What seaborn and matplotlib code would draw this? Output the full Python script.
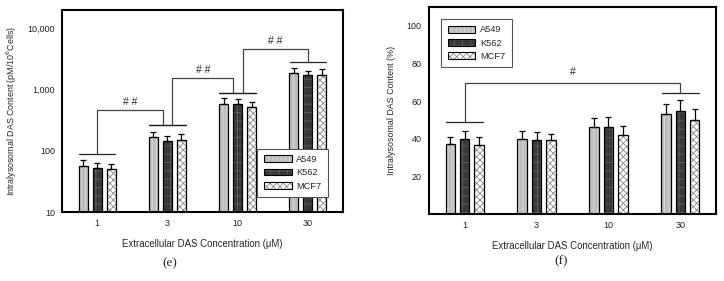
import numpy as np
import pandas as pd
import seaborn as sns
from matplotlib import pyplot as plt
from matplotlib.patches import Patch, Rectangle
from matplotlib.legend_handler import HandlerTuple
from matplotlib.ticker import FixedLocator, NullLocator

# categories
concentrations = ['1', '3', '10', '30']
cell_lines = ['A549', 'K562', 'MCF7']

# panel (e): intralysosomal DAS content, pM/10^6 cells (log axis)
e_a549 = [57, 170, 570, 1830]
e_k562 = [53, 144, 578, 1700]
e_mcf7 = [49.5, 152, 510, 1740]
e_a549_err = [13, 34, 140, 380]
e_k562_err = [10.5, 32, 112, 320]
e_mcf7_err = [11.5, 34, 118, 390]

# panel (f): intralysosomal DAS content, %
f_a549 = [37.3, 39.8, 46.0, 53.3]
f_k562 = [40.0, 39.3, 46.2, 54.7]
f_mcf7 = [36.6, 39.3, 42.1, 50.1]
f_a549_err = [3.9, 4.2, 4.8, 5.1]
f_k562_err = [3.9, 4.1, 5.1, 6.0]
f_mcf7_err = [4.1, 3.5, 4.8, 5.7]

# significance brackets: (from group, to group, base of left, top, base of right, label)
e_brackets = [(0, 1, 89, 460, 260, '# #'),
              (1, 2, 260, 1510, 882, '# #'),
              (2, 3, 882, 4530, 2740, '# #')]
f_brackets = [(0, 3, 49.0, 69.8, 64.2, '#')]

# bar styles: face, hatch, hatch colour
styles = {'A549': ('#bdbdbd', '||||', '#dcdcdc'),
          'K562': ('#383838', '++', '#606060'),
          'MCF7': ('white', 'xxxxx', '#8a8a8a')}


def make_df(vals, errs):
    rows = []
    for line, v, e in zip(cell_lines, vals, errs):
        for c, vv, ee in zip(concentrations, v, e):
            rows.append({'conc': c, 'line': line, 'value': vv, 'err': ee})
    return pd.DataFrame(rows)


def draw_panel(ax, df):
    sns.barplot(data=df, x='conc', y='value', hue='line', order=concentrations,
                hue_order=cell_lines, width=0.6, gap=0.35, legend=False, ax=ax,
                errorbar=None)
    for cont, line in zip(ax.containers, cell_lines):
        face, hatch, hcol = styles[line]
        sub = df[df.line == line].set_index('conc').loc[concentrations]
        xs = []
        for p in cont.patches:
            p.set_facecolor(face)
            p.set_hatch(hatch)
            p.set_edgecolor(hcol)
            p.set_linewidth(0)
            ax.add_patch(Rectangle(p.get_xy(), p.get_width(), p.get_height(),
                                   fill=False, ec='black', lw=0.9, zorder=3))
            xs.append(p.get_x() + p.get_width() / 2)
        ax.errorbar(xs, sub['value'], yerr=[np.zeros(len(xs)), sub['err']],
                    fmt='none', ecolor='black', elinewidth=0.9, capsize=2.2,
                    capthick=0.9, zorder=2)


def draw_brackets(ax, brackets, ytext_factor, log=False):
    for g0, g1, b0, top, b1, label in brackets:
        # horizontal lines over the groups
        for g, b in ((g0, b0), (g1, b1)):
            ax.plot([g - 0.26, g + 0.26], [b, b], color='#222222', lw=0.9)
        x0 = g0 + (0.0 if g0 == 0 else 0.07)
        x1 = g1 - (0.0 if g1 == 3 else 0.06)
        ax.plot([x0, x0, x1, x1], [b0, top, top, b1], color='#444444', lw=0.9)
        yt = top * ytext_factor if log else top + ytext_factor
        ax.text((x0 + x1) / 2, yt, label, ha='center', va='bottom',
                fontsize=7.5, family='Liberation Sans')


def legend_handles():
    hs = []
    for line in cell_lines:
        face, hatch, hcol = styles[line]
        hs.append((Patch(facecolor=face, hatch=hatch, edgecolor=hcol, lw=0),
                   Patch(fill=False, edgecolor='black', lw=0.8)))
    return hs


def style_axes(ax):
    for s in ax.spines.values():
        s.set_linewidth(1.5)
        s.set_color('black')
    ax.tick_params(axis='both', direction='out', length=3, width=0.8,
                   labelsize=6.5, pad=2, labelcolor='#222222')
    ax.set_xlim(-0.5, 3.5)


def add_legend(ax, loc, anchor):
    leg = ax.legend(legend_handles(), cell_lines,
                    handler_map={tuple: HandlerTuple(ndivide=1, pad=0)},
                    loc=loc, bbox_to_anchor=anchor, fontsize=6.7, borderaxespad=0,
                    fancybox=False, framealpha=1, edgecolor='#555555', handlelength=3.0,
                    handleheight=0.75, borderpad=0.7, labelspacing=0.45, handletextpad=0.5)
    leg.get_frame().set_linewidth(0.8)


def main():
    sns.set_style('white')
    plt.rcParams['font.family'] = ['Liberation Sans', 'DejaVu Sans']
    plt.rcParams['hatch.linewidth'] = 0.6

    fig = plt.figure(figsize=(7.24, 2.81), dpi=100)
    ax1 = fig.add_axes([62 / 724, 1 - 212 / 281, 281 / 724, 202.5 / 281])
    ax2 = fig.add_axes([428.7 / 724, 1 - 214.3 / 281, 287.6 / 724, 207.6 / 281])

    df_e = make_df([e_a549, e_k562, e_mcf7], [e_a549_err, e_k562_err, e_mcf7_err])
    df_f = make_df([f_a549, f_k562, f_mcf7], [f_a549_err, f_k562_err, f_mcf7_err])

    """Panel (e)"""
    draw_panel(ax1, df_e)
    ax1.set_yscale('log')
    ax1.set_ylim(10, 20000)
    ax1.yaxis.set_major_locator(FixedLocator([10, 100, 1000, 10000]))
    ax1.yaxis.set_minor_locator(NullLocator())
    ax1.set_yticklabels(['10', '100', '1,000', '10,000'])
    draw_brackets(ax1, e_brackets, 1.12, log=True)
    style_axes(ax1)
    ax1.set_xlabel('Extracellular DAS Concentration (\u03bcM)', fontsize=6.9, labelpad=8)
    ax1.set_ylabel('Intralysosomal DAS Content (pM/10$^6$Cells)', fontsize=6.4, labelpad=6)
    add_legend(ax1, 'lower right', (0.947, 0.074))

    """Panel (f)"""
    draw_panel(ax2, df_f)
    ax2.set_ylim(0, 110)
    ax2.set_yticks([20, 40, 60, 80, 100])
    draw_brackets(ax2, f_brackets, 3.0)
    style_axes(ax2)
    ax2.set_xlabel('Extracellular DAS Concentration (\u03bcM)', fontsize=6.9, labelpad=8)
    ax2.set_ylabel('Intralysosomal DAS Content (%)', fontsize=6.4, labelpad=8)
    add_legend(ax2, 'upper left', (0.043, 0.941))

    fig.text(170 / 724, 1 - 263 / 281, '(e)', ha='center', va='center', fontsize=9.5,
             family='Liberation Serif')
    fig.text(561 / 724, 1 - 261 / 281, '(f)', ha='center', va='center', fontsize=9.5,
             family='Liberation Serif')

    fig.savefig('out.png', dpi=100)


if __name__ == '__main__':
    main()
